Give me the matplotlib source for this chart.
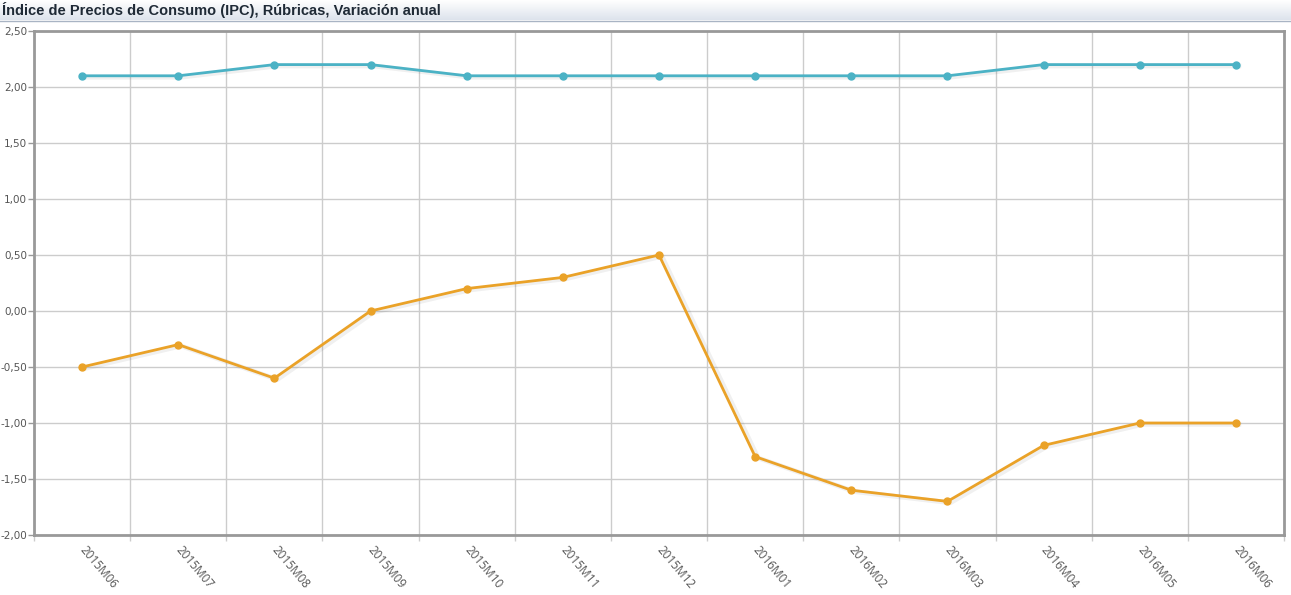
import matplotlib
matplotlib.use("Agg")
import matplotlib.pyplot as plt
import numpy as np

categories = ["2015M06", "2015M07", "2015M08", "2015M09", "2015M10", "2015M11",
              "2015M12", "2016M01", "2016M02", "2016M03", "2016M04", "2016M05", "2016M06"]
serie_azul = [2.1, 2.1, 2.2, 2.2, 2.1, 2.1, 2.1, 2.1, 2.1, 2.1, 2.2, 2.2, 2.2]
serie_naranja = [-0.5, -0.3, -0.6, 0.0, 0.2, 0.3, 0.5, -1.3, -1.6, -1.7, -1.2, -1.0, -1.0]
yticks = [2.5, 2.0, 1.5, 1.0, 0.5, 0.0, -0.5, -1.0, -1.5, -2.0]
title = "Índice de Precios de Consumo (IPC), Rúbricas, Variación anual"

W, H = 1291, 595
fig = plt.figure(figsize=(W / 100, H / 100), dpi=100)

# title bar
grad = np.linspace(1.0, 0.0, 50).reshape(-1, 1)
bar_ax = fig.add_axes([0, 1 - 20 / H, 1, 20 / H])
bar_ax.imshow(grad, aspect="auto", cmap=matplotlib.colors.LinearSegmentedColormap.from_list(
    "g", ["#dde3ec", "#ffffff"]), extent=[0, 1, 0, 1])
bar_ax.axis("off")
fig.add_artist(plt.Line2D([0, 1], [1 - 20.5 / H, 1 - 20.5 / H], color="#a9b4c4", lw=1))
fig.text(2 / W, 1 - 10 / H, title, fontsize=10.5, fontweight="bold", color="#1f2a36",
         va="center", ha="left", family=["Liberation Sans", "DejaVu Sans"])

left, right, top, bottom = 34, 1284, 31, 535
ax = fig.add_axes([left / W, 1 - bottom / H, (right - left) / W, (bottom - top) / H])
n = len(categories)
x = np.arange(n)
ax.set_xlim(-0.5, n - 0.5)
ax.set_ylim(-2.0, 2.5)

ax.set_yticks(yticks)
ax.set_yticklabels([f"{v:.2f}".replace(".", ",") for v in yticks])
ax.set_xticks(np.arange(n + 1) - 0.5, minor=False)
ax.set_xticklabels([""] * (n + 1))
ax.grid(True, axis="both", color="#cccccc", lw=1)
ax.set_axisbelow(True)

for sp in ax.spines.values():
    sp.set_color("#999999")
    sp.set_linewidth(2)

ax.tick_params(axis="y", length=4, width=1, color="#999999", labelsize=7.5, labelcolor="#555555", pad=1)
ax.tick_params(axis="x", length=4, width=1, color="#cccccc")

for i, lab in enumerate(categories):
    ax.text(i, -2.0 - 0.11, lab, rotation=-50, rotation_mode="anchor", ha="left", va="center",
            fontsize=8.5, color="#555555", family=["Open Sans", "DejaVu Sans"],
            transform=ax.transData, clip_on=False)

for ys, col in [(serie_azul, "#4bb2c5"), (serie_naranja, "#eaa228")]:
    ax.plot(x + 0.03, np.array(ys) - 0.012, color="#000000", alpha=0.06, lw=3.5, zorder=2)
    ax.plot(x, ys, color=col, lw=2, marker="o", markersize=5, zorder=3)

fig.savefig("out.png", dpi=100)
